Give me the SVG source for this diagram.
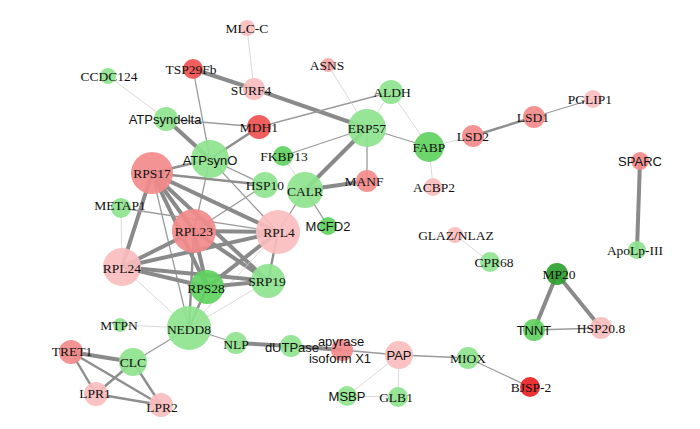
<svg xmlns="http://www.w3.org/2000/svg" width="700" height="429" viewBox="0 0 700 429">
<style>
.e1{stroke:#cfcfcf;stroke-width:0.8;fill:none}
.e2{stroke:#9a9a9a;stroke-width:1.3;fill:none}
.e3{stroke:#8e8e8e;stroke-width:2.4;fill:none}
.e4{stroke:#8a8a8a;stroke-width:4;fill:none}
circle{fill-opacity:0.92}
.g1{fill:#8ee38e}.g2{fill:#5fd35f}.g3{fill:#2f9f2f}
.r1{fill:#f38a8a}.r2{fill:#fabdbd}.r3{fill:#ef5050}.r4{fill:#ea2222}.r5{fill:#f5a5a5}
text{font-size:13px;fill:#111;text-anchor:middle}
.s{font-family:"Liberation Serif","Times New Roman",serif;font-size:13.5px}
.a{font-family:"Liberation Sans",Arial,sans-serif}
</style>
<rect width="700" height="429" fill="#fff"/>
<g id="edges">
<line class="e1" x1="247" y1="28" x2="254" y2="89"/>
<line class="e4" x1="193" y1="69" x2="254" y2="89"/>
<line class="e4" x1="254" y1="89" x2="367" y2="128"/>
<line class="e2" x1="193" y1="69" x2="210" y2="159"/>
<line class="e1" x1="108" y1="76" x2="166" y2="119"/>
<line class="e2" x1="166" y1="119" x2="259" y2="127"/>
<line class="e4" x1="166" y1="119" x2="210" y2="159"/>
<line class="e3" x1="259" y1="127" x2="210" y2="159"/>
<line class="e2" x1="259" y1="127" x2="391" y2="92"/>
<line class="e1" x1="328" y1="65" x2="367" y2="128"/>
<line class="e1" x1="391" y1="92" x2="367" y2="128"/>
<line class="e1" x1="391" y1="92" x2="429" y2="147"/>
<line class="e2" x1="367" y1="128" x2="429" y2="147"/>
<line class="e2" x1="367" y1="128" x2="367" y2="181"/>
<line class="e4" x1="367" y1="128" x2="305" y2="190"/>
<line class="e2" x1="367" y1="128" x2="283" y2="156"/>
<line class="e1" x1="283" y1="156" x2="305" y2="190"/>
<line class="e4" x1="305" y1="190" x2="367" y2="181"/>
<line class="e2" x1="305" y1="190" x2="328" y2="226"/>
<line class="e2" x1="305" y1="190" x2="278" y2="232"/>
<line class="e1" x1="429" y1="147" x2="473" y2="136"/>
<line class="e1" x1="429" y1="147" x2="433" y2="187"/>
<line class="e3" x1="473" y1="136" x2="534" y2="117"/>
<line class="e2" x1="534" y1="117" x2="593" y2="99"/>
<line class="e4" x1="640" y1="161" x2="637" y2="250"/>
<line class="e1" x1="455" y1="235" x2="490" y2="262"/>
<line class="e4" x1="557" y1="274" x2="534" y2="330"/>
<line class="e4" x1="557" y1="274" x2="601" y2="328"/>
<line class="e2" x1="534" y1="330" x2="601" y2="328"/>
<line class="e2" x1="189" y1="328" x2="236" y2="343"/>
<line class="e4" x1="236" y1="343" x2="291" y2="346"/>
<line class="e4" x1="291" y1="346" x2="342" y2="350"/>
<line class="e2" x1="342" y1="350" x2="399" y2="355"/>
<line class="e2" x1="399" y1="355" x2="468" y2="358"/>
<line class="e2" x1="468" y1="358" x2="530" y2="387"/>
<line class="e1" x1="399" y1="355" x2="347" y2="396"/>
<line class="e1" x1="399" y1="355" x2="398" y2="397"/>
<line class="e1" x1="347" y1="396" x2="398" y2="397"/>
<line class="e1" x1="189" y1="328" x2="120" y2="325"/>
<line class="e2" x1="189" y1="328" x2="133" y2="362"/>
<line class="e4" x1="133" y1="362" x2="71" y2="352"/>
<line class="e3" x1="133" y1="362" x2="96" y2="394"/>
<line class="e3" x1="133" y1="362" x2="161" y2="405"/>
<line class="e3" x1="71" y1="352" x2="96" y2="394"/>
<line class="e3" x1="71" y1="352" x2="161" y2="405"/>
<line class="e3" x1="96" y1="394" x2="161" y2="405"/>
<line class="e3" x1="210" y1="159" x2="152" y2="173"/>
<line class="e2" x1="210" y1="159" x2="265" y2="185"/>
<line class="e2" x1="210" y1="159" x2="278" y2="232"/>
<line class="e2" x1="210" y1="159" x2="194" y2="231"/>
<line class="e3" x1="152" y1="173" x2="265" y2="185"/>
<line class="e2" x1="265" y1="185" x2="194" y2="231"/>
<line class="e4" x1="152" y1="173" x2="278" y2="232"/>
<line class="e4" x1="152" y1="173" x2="194" y2="231"/>
<line class="e4" x1="152" y1="173" x2="122" y2="267"/>
<line class="e4" x1="152" y1="173" x2="207" y2="287"/>
<line class="e4" x1="152" y1="173" x2="268" y2="281"/>
<line class="e2" x1="152" y1="173" x2="189" y2="328"/>
<line class="e1" x1="121" y1="208" x2="122" y2="267"/>
<line class="e2" x1="121" y1="208" x2="278" y2="232"/>
<line class="e4" x1="194" y1="231" x2="278" y2="232"/>
<line class="e4" x1="194" y1="231" x2="122" y2="267"/>
<line class="e4" x1="194" y1="231" x2="207" y2="287"/>
<line class="e4" x1="194" y1="231" x2="268" y2="281"/>
<line class="e3" x1="194" y1="231" x2="189" y2="328"/>
<line class="e4" x1="278" y1="232" x2="122" y2="267"/>
<line class="e4" x1="278" y1="232" x2="207" y2="287"/>
<line class="e3" x1="278" y1="232" x2="268" y2="281"/>
<line class="e1" x1="278" y1="232" x2="189" y2="328"/>
<line class="e4" x1="122" y1="267" x2="207" y2="287"/>
<line class="e4" x1="122" y1="267" x2="268" y2="281"/>
<line class="e1" x1="122" y1="267" x2="189" y2="328"/>
<line class="e4" x1="207" y1="287" x2="268" y2="281"/>
<line class="e3" x1="207" y1="287" x2="189" y2="328"/>
<line class="e1" x1="268" y1="281" x2="189" y2="328"/>
</g>
<g id="n-MLC-C"><circle class="r2" cx="247" cy="28" r="8"/><text class="s" x="247" y="33">MLC-C</text></g>
<g id="n-TSP29Fb"><circle class="r3" cx="193" cy="69" r="10"/><text class="s" x="191" y="74">TSP29Fb</text></g>
<g id="n-CCDC124"><circle class="g1" cx="108" cy="76" r="8"/><text class="s" x="109" y="81">CCDC124</text></g>
<g id="n-ASNS"><circle class="r5" cx="328" cy="65" r="7"/><text class="s" x="327" y="70">ASNS</text></g>
<g id="n-SURF4"><circle class="r2" cx="254" cy="89" r="11"/><text class="s" x="251" y="95">SURF4</text></g>
<g id="n-ATPsyndelta"><circle class="g1" cx="166" cy="119" r="12"/><text class="a" x="165" y="124">ATPsyndelta</text></g>
<g id="n-MDH1"><circle class="r3" cx="259" cy="127" r="12"/><text class="s" x="259" y="132">MDH1</text></g>
<g id="n-ALDH"><circle class="g1" cx="391" cy="92" r="12"/><text class="s" x="392" y="97">ALDH</text></g>
<g id="n-ERP57"><circle class="g1" cx="367" cy="128" r="19"/><text class="s" x="367" y="133">ERP57</text></g>
<g id="n-FABP"><circle class="g2" cx="429" cy="147" r="15"/><text class="s" x="429" y="152">FABP</text></g>
<g id="n-LSD2"><circle class="r1" cx="473" cy="136" r="11"/><text class="s" x="473" y="141">LSD2</text></g>
<g id="n-LSD1"><circle class="r1" cx="534" cy="117" r="11"/><text class="s" x="533" y="122">LSD1</text></g>
<g id="n-PGLIP1"><circle class="r2" cx="593" cy="99" r="9"/><text class="s" x="590" y="104">PGLIP1</text></g>
<g id="n-ATPsynO"><circle class="g1" cx="210" cy="159" r="19"/><text class="a" x="210" y="165">ATPsynO</text></g>
<g id="n-RPS17"><circle class="r1" cx="152" cy="173" r="21"/><text class="s" x="152" y="178">RPS17</text></g>
<g id="n-FKBP13"><circle class="g2" cx="283" cy="156" r="10"/><text class="s" x="284" y="161">FKBP13</text></g>
<g id="n-HSP10"><circle class="g1" cx="265" cy="185" r="13"/><text class="s" x="265" y="190">HSP10</text></g>
<g id="n-CALR"><circle class="g1" cx="305" cy="190" r="18"/><text class="s" x="305" y="196">CALR</text></g>
<g id="n-MANF"><circle class="r1" cx="367" cy="181" r="11"/><text class="s" x="364" y="186">MANF</text></g>
<g id="n-ACBP2"><circle class="r2" cx="433" cy="187" r="9"/><text class="s" x="434" y="192">ACBP2</text></g>
<g id="n-SPARC"><circle class="r1" cx="640" cy="161" r="9"/><text class="a" x="640" y="166">SPARC</text></g>
<g id="n-METAP1"><circle class="g1" cx="121" cy="208" r="10"/><text class="s" x="120" y="210">METAP1</text></g>
<g id="n-RPL23"><circle class="r1" cx="194" cy="231" r="22"/><text class="s" x="194" y="236">RPL23</text></g>
<g id="n-RPL4"><circle class="r2" cx="278" cy="232" r="22"/><text class="s" x="279" y="237">RPL4</text></g>
<g id="n-MCFD2"><circle class="g2" cx="328" cy="226" r="9"/><text class="a" x="328" y="231">MCFD2</text></g>
<g id="n-RPL24"><circle class="r2" cx="122" cy="267" r="19"/><text class="s" x="122" y="273">RPL24</text></g>
<g id="n-RPS28"><circle class="g2" cx="207" cy="287" r="17"/><text class="s" x="206" y="293">RPS28</text></g>
<g id="n-SRP19"><circle class="g1" cx="268" cy="281" r="17"/><text class="s" x="267" y="286">SRP19</text></g>
<g id="n-GLAZ-NLAZ"><circle class="r2" cx="455" cy="235" r="8"/><text class="s" x="456" y="240">GLAZ/NLAZ</text></g>
<g id="n-CPR68"><circle class="g1" cx="490" cy="262" r="10"/><text class="s" x="494" y="267">CPR68</text></g>
<g id="n-ApoLp-III"><circle class="g1" cx="637" cy="250" r="9"/><text class="s" x="635" y="255">ApoLp-III</text></g>
<g id="n-MP20"><circle class="g3" cx="557" cy="274" r="11"/><text class="s" x="559" y="279">MP20</text></g>
<g id="n-TNNT"><circle class="g2" cx="534" cy="330" r="11"/><text class="a" x="534" y="335">TNNT</text></g>
<g id="n-HSP20.8"><circle class="r2" cx="601" cy="328" r="11"/><text class="s" x="601" y="333">HSP20.8</text></g>
<g id="n-MTPN"><circle class="g1" cx="120" cy="325" r="7"/><text class="s" x="119" y="330">MTPN</text></g>
<g id="n-NEDD8"><circle class="g1" cx="189" cy="328" r="22"/><text class="s" x="189" y="334">NEDD8</text></g>
<g id="n-NLP"><circle class="g1" cx="236" cy="343" r="11"/><text class="s" x="236" y="349">NLP</text></g>
<g id="n-dUTPase"><circle class="g1" cx="291" cy="346" r="11"/><text class="a" x="292" y="352">dUTPase</text></g>
<g id="n-apyrase"><circle class="r1" cx="342" cy="350" r="11"/><text class="a" x="341" y="346">apyrase</text><text class="a" x="340" y="363">isoform X1</text></g>
<g id="n-PAP"><circle class="r2" cx="399" cy="355" r="14"/><text class="a" x="399" y="360">PAP</text></g>
<g id="n-MIOX"><circle class="g1" cx="468" cy="358" r="11"/><text class="s" x="468" y="363">MIOX</text></g>
<g id="n-BJSP-2"><circle class="r4" cx="530" cy="387" r="10"/><text class="s" x="531" y="392">BJSP-2</text></g>
<g id="n-MSBP"><circle class="g1" cx="347" cy="396" r="10"/><text class="a" x="347" y="401">MSBP</text></g>
<g id="n-GLB1"><circle class="g1" cx="398" cy="397" r="10"/><text class="s" x="396" y="402">GLB1</text></g>
<g id="n-TRET1"><circle class="r1" cx="71" cy="352" r="12"/><text class="s" x="72" y="356">TRET1</text></g>
<g id="n-CLC"><circle class="g1" cx="133" cy="362" r="14"/><text class="s" x="133" y="367">CLC</text></g>
<g id="n-LPR1"><circle class="r2" cx="96" cy="394" r="12"/><text class="s" x="95" y="398">LPR1</text></g>
<g id="n-LPR2"><circle class="r2" cx="161" cy="405" r="12"/><text class="s" x="162" y="412">LPR2</text></g>
</svg>
